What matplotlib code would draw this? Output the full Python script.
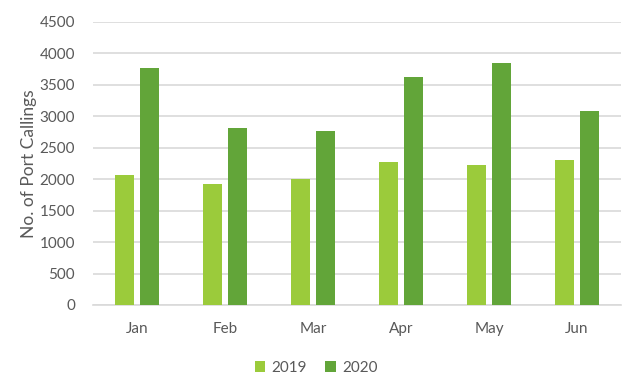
import matplotlib
matplotlib.use("Agg")
import matplotlib.pyplot as plt
import numpy as np

months = ["Jan", "Feb", "Mar", "Apr", "May", "Jun"]
calls_2019 = [2060, 1930, 2010, 2280, 2220, 2300]
calls_2020 = [3770, 2820, 2760, 3630, 3850, 3090]
series_labels = ["2019", "2020"]
yticks = [0, 500, 1000, 1500, 2000, 2500, 3000, 3500, 4000, 4500]

plt.rcParams['font.family'] = ['Lato', 'DejaVu Sans']
txt = "#595959"

fig = plt.figure(figsize=(6.29, 3.83), dpi=100)
ax = fig.add_axes([93/629, 78/383, 528/629, 283/383])

x = np.arange(len(months))
w = 0.227
off = 0.142
b1 = ax.bar(x - off, calls_2019, width=w, color="#9BCB3B", label=series_labels[0], zorder=3)
b2 = ax.bar(x + off, calls_2020, width=w, color="#62A539", label=series_labels[1], zorder=3)

ax.set_xlim(-0.5, len(months) - 0.5)
ax.set_ylim(0, 4500)
ax.set_yticks(yticks)
ax.set_yticklabels([str(v) for v in yticks])
ax.set_xticks(x)
ax.set_xticklabels(months)
ax.grid(axis="y", color="#D9D9D9", linewidth=1.2, zorder=0)
for s in ["top", "right", "left"]:
    ax.spines[s].set_visible(False)
ax.spines["bottom"].set_color("#D9D9D9")
ax.spines["bottom"].set_linewidth(1.2)
ax.tick_params(axis="both", length=0, colors=txt, labelsize=11)
ax.tick_params(axis="y", pad=13)
ax.tick_params(axis="x", pad=12)
ax.set_ylabel("No. of Port Callings", color=txt, fontsize=12.5, labelpad=2)

fig.legend(handles=[b1, b2], labels=series_labels, loc="center", bbox_to_anchor=(316/629, 1 - 368/383),
           ncol=2, frameon=False, fontsize=11, handlelength=0.7, handleheight=0.7,
           columnspacing=1.2, handletextpad=0.4, labelcolor=txt)

fig.savefig("out.png", dpi=100)
